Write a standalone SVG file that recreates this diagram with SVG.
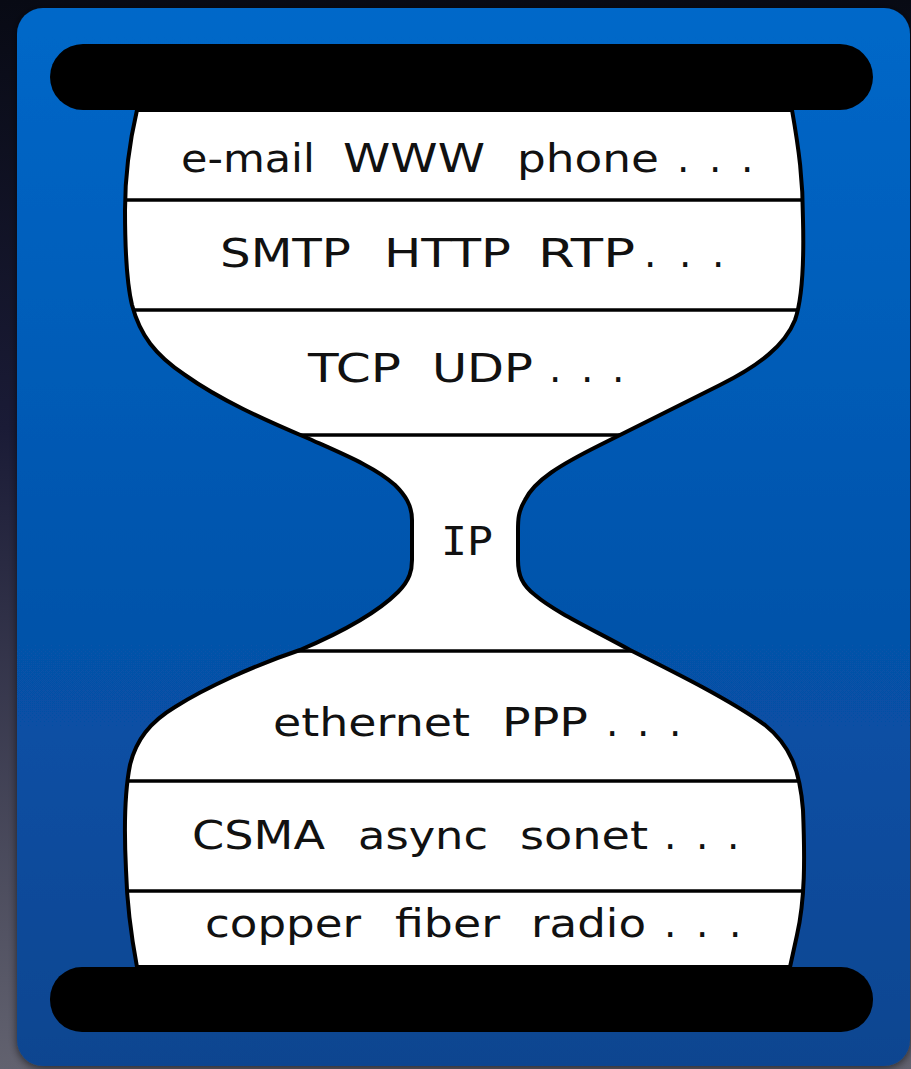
<svg xmlns="http://www.w3.org/2000/svg" width="911" height="1069" viewBox="0 0 911 1069">
  <defs>
    <linearGradient id="bg" x1="0" y1="0" x2="0" y2="1">
      <stop offset="0" stop-color="#080a14"/>
      <stop offset="0.4" stop-color="#1a1b36"/>
      <stop offset="1" stop-color="#62626f"/>
    </linearGradient>
    <linearGradient id="panel" x1="0" y1="0" x2="0" y2="1">
      <stop offset="0" stop-color="#0568c9"/>
      <stop offset="0.6" stop-color="#0652a9"/>
      <stop offset="1" stop-color="#0b4590"/>
    </linearGradient>
    <clipPath id="glassClip">
      <path id="glassShape" d="M137,110 L792,110 C799,150 803,180 803,220 C804,260 802,300 795,320 C785,345 760,365 720,385 C680,405 640,425 600,445 C560,465 535,480 525,500 C518,512 518,520 518,530 L518,560 C518,575 522,585 535,595 C555,612 590,628 630,650 C680,675 730,700 765,725 C790,745 800,770 803,810 C805,860 805,900 797,935 L790,967 L137,967 C131,935 127,905 126,870 C124,830 125,790 130,765 C136,740 150,722 175,707 C205,688 255,665 300,650 C340,633 375,615 398,592 C410,580 412,570 412,560 L412,520 C412,505 405,495 395,485 C375,467 345,455 305,437 C265,420 220,400 185,375 C155,355 140,335 132,305 C126,280 125,240 125,210 C125,170 130,140 137,110 Z"/>
    </clipPath>
    <filter id="shadow" x="-5%" y="-5%" width="110%" height="110%">
      <feGaussianBlur in="SourceAlpha" stdDeviation="4"/>
      <feOffset dx="0" dy="2"/>
      <feComponentTransfer><feFuncA type="linear" slope="0.6"/></feComponentTransfer>
      <feMerge><feMergeNode/><feMergeNode in="SourceGraphic"/></feMerge>
    </filter>
  </defs>
  <style>
    .lbl { font-family: "DejaVu Sans", Verdana, sans-serif; font-size: 39px; fill: #111; }
    .mono { font-family: "DejaVu Sans Mono", "Liberation Mono", monospace; }
    .div { stroke: #000; stroke-width: 3.5; }
    .outline { fill: none; stroke: #000; stroke-width: 4; stroke-linejoin: round; }
    .bar { fill: #000; }
  </style>

  <rect x="0" y="0" width="911" height="1069" fill="url(#bg)"/>
  <rect id="panelBg" x="17" y="8" width="893" height="1058" rx="26" ry="26" fill="url(#panel)" filter="url(#shadow)"/>

  <g id="hourglass">
    <use href="#glassShape" fill="#ffffff"/>
    <g clip-path="url(#glassClip)">
      <line class="div" x1="100" y1="200" x2="830" y2="200"/>
      <line class="div" x1="100" y1="310" x2="830" y2="310"/>
      <line class="div" x1="100" y1="435" x2="830" y2="435"/>
      <line class="div" x1="100" y1="651" x2="830" y2="651"/>
      <line class="div" x1="100" y1="781" x2="830" y2="781"/>
      <line class="div" x1="100" y1="891" x2="830" y2="891"/>
    </g>
    <use href="#glassShape" class="outline"/>
  </g>

  <g id="layer-apps">
    <text class="lbl" y="172"><tspan x="181" textLength="134" lengthAdjust="spacingAndGlyphs">e-mail</tspan> <tspan x="343" textLength="142" lengthAdjust="spacingAndGlyphs">WWW</tspan> <tspan x="517" textLength="142" lengthAdjust="spacingAndGlyphs">phone</tspan> <tspan x="677">.</tspan> <tspan x="709">.</tspan> <tspan x="741">.</tspan></text>
  </g>
  <g id="layer-appproto">
    <text class="lbl" y="267"><tspan x="220" textLength="131" lengthAdjust="spacingAndGlyphs">SMTP</tspan> <tspan x="384" textLength="127" lengthAdjust="spacingAndGlyphs">HTTP</tspan> <tspan x="538" textLength="97" lengthAdjust="spacingAndGlyphs">RTP</tspan> <tspan x="644">.</tspan> <tspan x="679">.</tspan> <tspan x="712">.</tspan></text>
  </g>
  <g id="layer-transport">
    <text class="lbl" y="382"><tspan x="308" textLength="93" lengthAdjust="spacingAndGlyphs">TCP</tspan> <tspan x="432" textLength="101" lengthAdjust="spacingAndGlyphs">UDP</tspan> <tspan x="549">.</tspan> <tspan x="581">.</tspan> <tspan x="612">.</tspan></text>
  </g>
  <g id="layer-ip">
    <text class="lbl mono" y="555"><tspan x="441" textLength="52" lengthAdjust="spacingAndGlyphs">IP</tspan></text>
  </g>
  <g id="layer-link">
    <text class="lbl" y="736"><tspan x="273" textLength="197" lengthAdjust="spacingAndGlyphs">ethernet</tspan> <tspan x="502" textLength="86" lengthAdjust="spacingAndGlyphs">PPP</tspan> <tspan x="606">.</tspan> <tspan x="637">.</tspan> <tspan x="669">.</tspan></text>
  </g>
  <g id="layer-mac">
    <text class="lbl" y="849"><tspan x="192" textLength="133" lengthAdjust="spacingAndGlyphs">CSMA</tspan> <tspan x="358" textLength="130" lengthAdjust="spacingAndGlyphs">async</tspan> <tspan x="520" textLength="128" lengthAdjust="spacingAndGlyphs">sonet</tspan> <tspan x="664">.</tspan> <tspan x="696">.</tspan> <tspan x="727">.</tspan></text>
  </g>
  <g id="layer-physical">
    <text class="lbl" y="937"><tspan x="205" textLength="156" lengthAdjust="spacingAndGlyphs">copper</tspan> <tspan x="395" textLength="105" lengthAdjust="spacingAndGlyphs">fiber</tspan> <tspan x="531" textLength="115" lengthAdjust="spacingAndGlyphs">radio</tspan> <tspan x="664">.</tspan> <tspan x="696">.</tspan> <tspan x="729">.</tspan></text>
  </g>

  <g id="bar-top">
    <rect class="bar" x="50" y="44" width="823" height="66" rx="33" ry="33"/>
  </g>
  <g id="bar-bottom">
    <rect class="bar" x="50" y="967" width="823" height="65" rx="32" ry="32"/>
  </g>
</svg>
